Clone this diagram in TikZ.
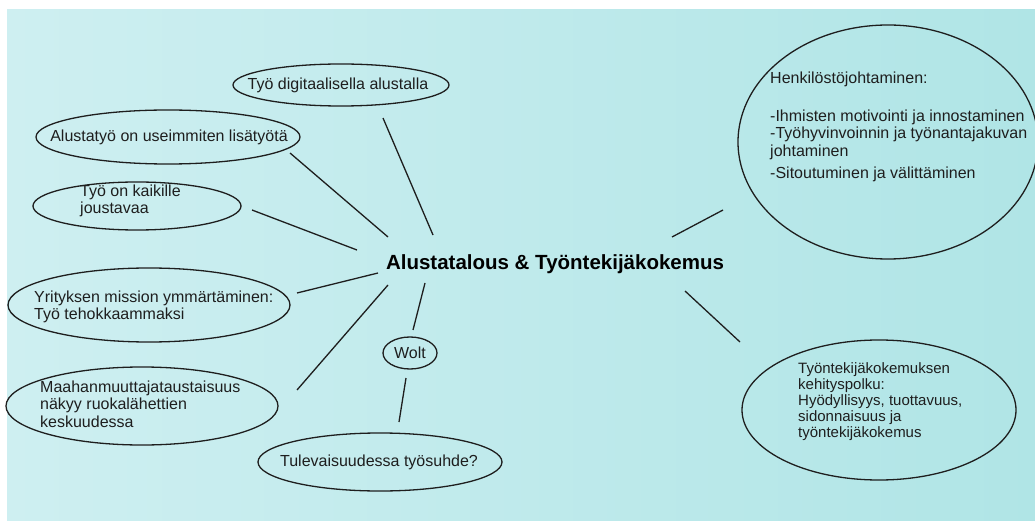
\documentclass[tikz,border=0pt]{standalone}
\usepackage{fontspec}
\setmainfont{Liberation Sans}
\usetikzlibrary{shapes.geometric}
\definecolor{bgL}{RGB}{206,239,241}
\definecolor{bgR}{RGB}{176,229,230}
\definecolor{ink}{RGB}{30,30,30}
\tikzset{
  bubble/.style={draw=ink, line width=1.3pt, ellipse, inner sep=0pt},
  txt/.style={inner sep=0pt, align=left, text=ink, font=\fontsize{16}{17.5}\selectfont},
  smalltxt/.style={txt, font=\fontsize{15}{16}\selectfont},
  link/.style={draw=ink, line width=1.3pt},
}
\begin{document}
\begin{tikzpicture}[x=1pt,y=-1pt]
\useasboundingbox (0,0) rectangle (1035,521);
\fill[white] (0,0) rectangle (1035,521);
\shade[left color=bgL, right color=bgR] (7,10) rectangle (1035,521);

% title
\node[inner sep=0pt, text=black, font=\fontsize{20.5}{22}\selectfont\bfseries] (title) at (555,264) {Alustatalous \& Työntekijäkokemus};

% bubbles
\node[bubble, minimum width=216pt, minimum height=42pt] (digi) at (341,85) {};
\node[txt] (digiT) at (338,85) {Työ digitaalisella alustalla};

\node[bubble, minimum width=264pt, minimum height=54pt] (alusta) at (168,137) {};
\node[txt] (alustaT) at (169,137) {Alustatyö on useimmiten lisätyötä};

\node[bubble, minimum width=208pt, minimum height=48pt] (kaik) at (137,206) {};
\node[txt, anchor=west] (kaikT) at (80,201) {Työ on kaikille\\joustavaa};

\node[bubble, minimum width=282pt, minimum height=74pt] (yrit) at (149,305) {};
\node[txt, anchor=west] (yritT) at (34,307) {Yrityksen mission ymmärtäminen:\\Työ tehokkaammaksi};

\node[bubble, minimum width=272pt, minimum height=78pt] (maah) at (142,406) {};
\node[txt, anchor=west] (maahT) at (40,404) {Maahanmuuttajataustaisuus\\näkyy ruokalähettien\\keskuudessa};

\node[bubble, minimum width=54pt, minimum height=32pt] (wolt) at (410,353) {};
\node[txt] (woltT) at (410,353) {Wolt};

\node[bubble, minimum width=244pt, minimum height=58pt] (tulev) at (380,462) {};
\node[txt] (tulevT) at (379,462) {Tulevaisuudessa työsuhde?};

\node[bubble, minimum width=300pt, minimum height=234pt] (henk) at (888,142) {};
\node[txt, anchor=north west] (henkT) at (770,72) {Henkilöstöjohtaminen:\\[20pt]-Ihmisten motivointi ja innostaminen\\-Työhyvinvoinnin ja työnantajakuvan\\johtaminen\\[5pt]-Sitoutuminen ja välittäminen};

\node[bubble, minimum width=274pt, minimum height=140pt] (kehi) at (879,410) {};
\node[smalltxt, anchor=west] (kehiT) at (798,402) {Työntekijäkokemuksen\\kehityspolku:\\Hyödyllisyys, tuottavuus,\\sidonnaisuus ja\\työntekijäkokemus};

% connector end points
\coordinate (d1) at (383,118);  \coordinate (d2) at (433,235);
\coordinate (a1) at (290,153);  \coordinate (a2) at (388,237);
\coordinate (k1) at (252,210);  \coordinate (k2) at (357,250);
\coordinate (y1) at (297,293);  \coordinate (y2) at (378,273);
\coordinate (m1) at (297,390);  \coordinate (m2) at (388,285);
\coordinate (w1) at (425,283);  \coordinate (w2) at (413,330);
\coordinate (t1) at (406,378);  \coordinate (t2) at (399,422);
\coordinate (h1) at (672,237);  \coordinate (h2) at (723,210);
\coordinate (e1) at (685,291);  \coordinate (e2) at (740,342);

\draw[link] (d1) -- (d2);
\draw[link] (a1) -- (a2);
\draw[link] (k1) -- (k2);
\draw[link] (y1) -- (y2);
\draw[link] (m1) -- (m2);
\draw[link] (w1) -- (w2);
\draw[link] (t1) -- (t2);
\draw[link] (h1) -- (h2);
\draw[link] (e1) -- (e2);
\end{tikzpicture}
\end{document}
